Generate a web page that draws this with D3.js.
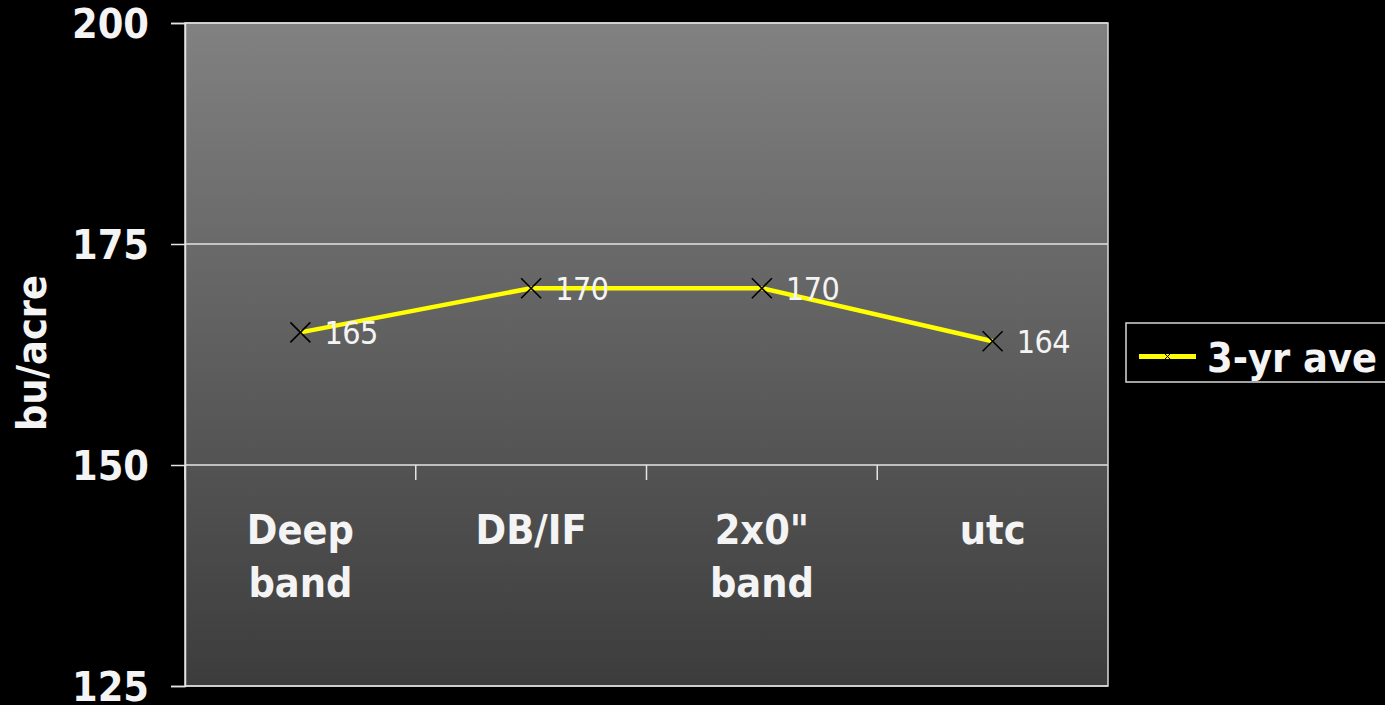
<!DOCTYPE html>
<html><head><meta charset="utf-8">
<script src="https://cdn.jsdelivr.net/npm/d3@7"></script>
<style>
html,body{margin:0;padding:0;background:#000;}
svg{display:block;}
text{font-family:"DejaVu Sans Condensed","DejaVu Sans",sans-serif;fill:#f4f4f4;}
</style></head>
<body>
<svg id="chart" width="1385" height="705"></svg>
<script>
const categories = [["Deep","band"],["DB/IF"],["2x0\"","band"],["utc"]];
const seriesName = "3-yr ave";
const values = [165, 170, 170, 164];
const yTicks = [125, 150, 175, 200];
const yTitle = "bu/acre";

(function(){
const svg = d3.select("#chart");
const W = 1385, H = 705;
const pLeft = 185, pRight = 1108, pTop = 23, pBottom = 686;

const catKeys = categories.map(c => c.join(" "));
const x = d3.scaleBand().domain(catKeys).range([pLeft, pRight]).paddingInner(0).paddingOuter(0);
const y = d3.scaleLinear().domain([125, 200]).range([pBottom, pTop]);

svg.append("rect").attr("width", W).attr("height", H).attr("fill", "#000");

const defs = svg.append("defs");
const grad = defs.append("linearGradient").attr("id", "bg").attr("x1", 0).attr("y1", 0).attr("x2", 0).attr("y2", 1);
grad.append("stop").attr("offset", "0%").attr("stop-color", "#818181");
grad.append("stop").attr("offset", "100%").attr("stop-color", "#3c3c3c");

svg.append("rect").attr("x", pLeft).attr("y", pTop).attr("width", pRight - pLeft).attr("height", pBottom - pTop)
  .attr("fill", "url(#bg)");

// gridlines
svg.append("g").selectAll("line").data(yTicks).join("line")
  .attr("x1", pLeft).attr("x2", pRight)
  .attr("y1", d => y(d)).attr("y2", d => y(d))
  .attr("stroke", "#e4e4e4").attr("stroke-width", 1.5);

// plot border
svg.append("rect").attr("x", pLeft).attr("y", pTop).attr("width", pRight - pLeft).attr("height", pBottom - pTop)
  .attr("fill", "none").attr("stroke", "#d8d8d8").attr("stroke-width", 1.5);

// y axis
const yAxis = d3.axisLeft(y).tickValues(yTicks).tickSize(14).tickPadding(22).tickFormat(d3.format("d"));
const gy = svg.append("g").attr("transform", `translate(${pLeft},0)`).call(yAxis);
gy.select(".domain").attr("stroke", "#e4e4e4").attr("stroke-width", 1.5);
gy.selectAll(".tick line").attr("stroke", "#e4e4e4").attr("stroke-width", 1.5);
gy.selectAll(".tick text").attr("fill", "#f4f4f4").style("font-size", "41px").style("font-weight", "bold")
  .attr("dy", "0.36em");

// x axis at 150
const xAxis = d3.axisBottom(x).tickSize(0).tickFormat("");
const gx = svg.append("g").attr("transform", `translate(0,${y(150)})`).call(xAxis);
gx.select(".domain").remove();
const bounds = [pLeft].concat(catKeys.map(k => x(k) + x.bandwidth()));
gx.selectAll(".sep").data(bounds.slice(0, -1)).join("line").attr("class", "sep")
  .attr("x1", d => d).attr("x2", d => d).attr("y1", 0).attr("y2", 15)
  .attr("stroke", "#e4e4e4").attr("stroke-width", 1.5);

// category labels
const cl = svg.append("g").selectAll("text").data(categories).join("text")
  .attr("x", (d, i) => x(catKeys[i]) + x.bandwidth() / 2)
  .attr("y", 544)
  .attr("text-anchor", "middle")
  .style("font-size", "41px").style("font-weight", "bold");
cl.each(function(d) {
  const t = d3.select(this);
  d.forEach((line, j) => {
    t.append("tspan").attr("x", t.attr("x")).attr("dy", j === 0 ? 0 : 53).text(line);
  });
});

// y title
svg.append("text").attr("transform", `translate(46,353) rotate(-90)`)
  .attr("text-anchor", "middle")
  .style("font-size", "41px").style("font-weight", "bold").text(yTitle);

// line
const cx = (d, i) => x(catKeys[i]) + x.bandwidth() / 2;
const line = d3.line().x((d, i) => cx(d, i)).y(d => y(d));
svg.append("path").datum(values).attr("d", line)
  .attr("fill", "none").attr("stroke", "#ffff00").attr("stroke-width", 4.5).attr("stroke-linejoin", "round");

// markers
const m = 10;
svg.append("g").selectAll("path").data(values).join("path")
  .attr("d", (d, i) => {
    const px = cx(d, i), py = y(d);
    return `M${px - m},${py - m}L${px + m},${py + m}M${px - m},${py + m}L${px + m},${py - m}`;
  })
  .attr("stroke", "#000").attr("stroke-width", 1.6).attr("fill", "none");

// data labels
svg.append("g").selectAll("text").data(values).join("text")
  .attr("x", (d, i) => cx(d, i) + 24)
  .attr("y", d => y(d) + 12)
  .style("font-size", "32px").style("letter-spacing", "-0.5px")
  .text(d => d);

// legend
const lg = svg.append("g");
lg.append("rect").attr("x", 1126).attr("y", 323).attr("width", 300).attr("height", 59)
  .attr("fill", "#000").attr("stroke", "#d8d8d8").attr("stroke-width", 1.5);
lg.append("line").attr("x1", 1139).attr("x2", 1196).attr("y1", 356.5).attr("y2", 356.5)
  .attr("stroke", "#ffff00").attr("stroke-width", 5);
const lm = 3, lx = 1167.5, ly = 356.5;
lg.append("path").attr("d", `M${lx - lm},${ly - lm}L${lx + lm},${ly + lm}M${lx - lm},${ly + lm}L${lx + lm},${ly - lm}`)
  .attr("stroke", "#000").attr("stroke-width", 1);
lg.append("text").attr("x", 1207).attr("y", 372)
  .style("font-size", "41px").style("font-weight", "bold").text(seriesName);
})();
</script>
</body></html>
